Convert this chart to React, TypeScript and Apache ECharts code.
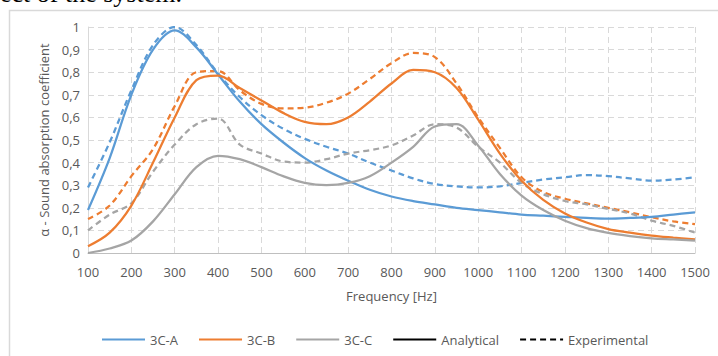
import React, { useEffect, useRef } from "react";
import * as echarts from "echarts";

const freq = [100,150,200,250,300,350,400,450,500,550,600,650,700,750,800,850,900,950,1000,1050,1100,1150,1200,1250,1300,1350,1400,1450,1500];

const a3cA = [0.19,0.42,0.70,0.90,0.985,0.91,0.79,0.67,0.57,0.49,0.42,0.365,0.32,0.28,0.25,0.23,0.215,0.20,0.19,0.18,0.17,0.165,0.16,0.155,0.152,0.155,0.16,0.17,0.18];
const e3cA = [0.29,0.49,0.72,0.92,1.0,0.92,0.795,0.69,0.61,0.55,0.505,0.47,0.44,0.40,0.365,0.33,0.305,0.295,0.29,0.295,0.31,0.325,0.335,0.345,0.34,0.33,0.32,0.325,0.335];
const a3cB = [0.03,0.09,0.21,0.40,0.60,0.765,0.785,0.73,0.675,0.62,0.58,0.57,0.60,0.67,0.75,0.81,0.80,0.73,0.59,0.44,0.32,0.235,0.175,0.135,0.106,0.09,0.077,0.068,0.06];
const e3cB = [0.15,0.21,0.34,0.46,0.65,0.80,0.805,0.72,0.66,0.64,0.643,0.665,0.705,0.77,0.84,0.885,0.867,0.75,0.60,0.465,0.335,0.27,0.24,0.22,0.20,0.18,0.158,0.14,0.128];
const a3cC = [0.0,0.02,0.055,0.14,0.26,0.38,0.43,0.415,0.38,0.34,0.31,0.30,0.31,0.34,0.40,0.47,0.56,0.57,0.475,0.35,0.254,0.19,0.143,0.11,0.089,0.075,0.065,0.06,0.055];
const e3cC = [0.10,0.17,0.22,0.36,0.48,0.57,0.595,0.48,0.44,0.405,0.40,0.415,0.44,0.455,0.476,0.52,0.57,0.555,0.47,0.40,0.31,0.26,0.23,0.215,0.195,0.175,0.143,0.12,0.09];

const legendNames = ["3C-A", "3C-B", "3C-C", "Analytical", "Experimental"];

const BLUE = "#5B9BD5";
const ORANGE = "#ED7D31";
const GRAY = "#A5A5A5";
const TXT = "#595959";
const FONT = "Open Sans";

const pairs = (ys: number[]) => freq.map((f, i) => [f, ys[i]]);

function line(name: string, ys: number[], color: string, dashed: boolean) {
  return {
    name,
    type: "line",
    data: pairs(ys),
    smooth: 0.35,
    symbol: "none",
    lineStyle: { color, width: 2.25, type: dashed ? [6, 4] : "solid" },
    itemStyle: { color },
    z: dashed ? 3 : 4,
  };
}

export default function App() {
  const ref = useRef<HTMLDivElement>(null);
  useEffect(() => {
    document.body.style.margin = "0";
    const chart = echarts.init(ref.current!, null, { renderer: "svg" });
    chart.setOption({
      animation: false,
      backgroundColor: "#ffffff",
      textStyle: { fontFamily: FONT },
      grid: { left: 88, right: 23, top: 27, bottom: 103 },
      legend: {
        data: legendNames,
        left: 96,
        top: 328,
        itemWidth: 43,
        itemHeight: 12,
        itemGap: 20,
        itemStyle: { opacity: 0 },
        textStyle: { color: TXT, fontSize: 13, fontFamily: FONT },
      },
      graphic: [
        {
          type: "rect",
          shape: { x: 9.5, y: 10.5, width: 760, height: 400 },
          style: { fill: "none", stroke: "#d9d9d9", lineWidth: 1.5 },
          silent: true,
        },
        {
          type: "text",
          x: 0,
          y: 6,
          style: {
            text: "ect of the system.",
            fontFamily: "Liberation Serif",
            fontSize: 26,
            fill: "#000",
            verticalAlign: "bottom",
          },
          silent: true,
        },
      ],
      xAxis: {
        type: "value",
        min: 100,
        max: 1500,
        interval: 100,
        name: "Frequency [Hz]",
        nameLocation: "middle",
        nameGap: 36,
        nameTextStyle: { color: TXT, fontSize: 13, fontFamily: FONT },
        axisLine: { show: true, lineStyle: { color: "#bfbfbf", width: 1 } },
        axisTick: { show: false },
        axisLabel: { color: TXT, fontSize: 13, margin: 12, fontFamily: FONT, formatter: (v: number) => String(v) },
        splitLine: { show: true, lineStyle: { color: "#d9d9d9", type: [6, 4], width: 1 } },
      },
      yAxis: {
        type: "value",
        min: 0,
        max: 1,
        interval: 0.1,
        name: "α - Sound absorption coefficient",
        nameLocation: "middle",
        nameGap: 37,
        nameTextStyle: { color: TXT, fontSize: 13, fontFamily: FONT },
        axisLine: { show: true, lineStyle: { color: "#d9d9d9", width: 1 } },
        axisTick: { show: false },
        axisLabel: {
          color: TXT,
          fontSize: 13,
          margin: 8,
          fontFamily: FONT,
          formatter: (v: number) => {
            const s = v.toFixed(1);
            if (s === "0.0") return "0";
            if (s === "1.0") return "1";
            return s.replace(".", ",");
          },
        },
        splitLine: { show: true, lineStyle: { color: "#d9d9d9", type: [6, 4], width: 1 } },
      },
      series: [
        line("3C-A", a3cA, BLUE, false),
        line("3C-A exp", e3cA, BLUE, true),
        line("3C-B", a3cB, ORANGE, false),
        line("3C-B exp", e3cB, ORANGE, true),
        line("3C-C", a3cC, GRAY, false),
        line("3C-C exp", e3cC, GRAY, true),
        { name: "Analytical", type: "line", data: [], symbol: "none", lineStyle: { color: "#000", width: 2.25 }, itemStyle: { color: "#000" } },
        { name: "Experimental", type: "line", data: [], symbol: "none", lineStyle: { color: "#000", width: 2.25, type: [6, 4] }, itemStyle: { color: "#000" } },
      ],
    });
    return () => chart.dispose();
  }, []);
  return <div ref={ref} style={{ position: "absolute", left: 0, top: 0, width: 718, height: 356 }} />;
}
